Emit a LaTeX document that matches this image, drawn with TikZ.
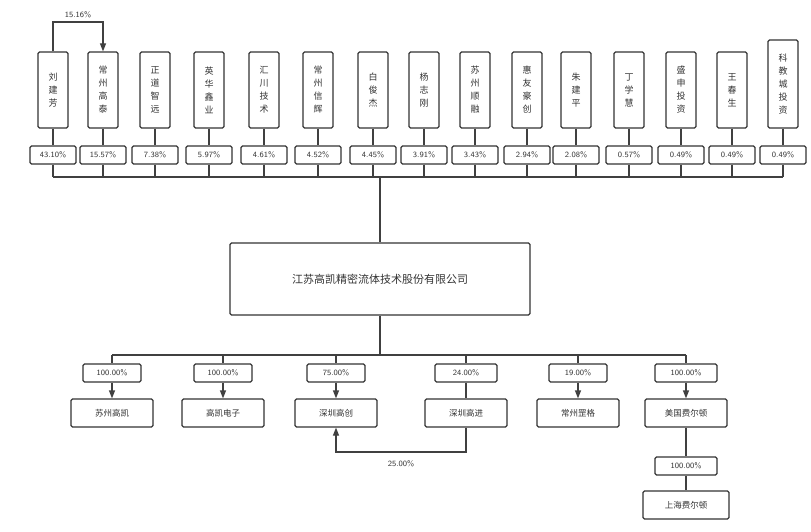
\documentclass[tikz,border=0pt]{standalone}
\usepackage{fontspec}
\newfontfamily\cjk{Noto Sans CJK SC}
\usetikzlibrary{arrows.meta}
\tikzset{
  box/.style={draw=black!80, very thick, rounded corners=1.5pt, fill=white, font=\cjk\fontsize{8.5}{10}\selectfont, text=black!80, inner sep=1pt},
  holder/.style={box, minimum width=30pt, minimum height=76pt, align=center, font=\cjk\fontsize{9}{13}\selectfont},
  pct/.style={box, minimum height=18pt, font=\sffamily\fontsize{8}{9}\selectfont},
  link/.style={draw=black!75, very thick},
  arr/.style={link, -{Triangle[length=8pt,width=6pt]}}
}
\begin{document}
\begin{tikzpicture}[x=1pt,y=-1pt]
\useasboundingbox (0,0) rectangle (811,532);

% holders
\foreach \n/\x/\t/\p in {1/53/刘\\建\\芳/43.10\%, 2/103/常\\州\\高\\泰/15.57\%, 3/155/正\\道\\智\\远/7.38\%,
  4/209/英\\华\\鑫\\业/5.97\%, 5/264/汇\\川\\技\\术/4.61\%, 6/318/常\\州\\信\\辉/4.52\%, 7/373/白\\俊\\杰/4.45\%,
  8/424/杨\\志\\刚/3.91\%, 9/475/苏\\州\\顺\\融/3.43\%, 10/527/惠\\友\\豪\\创/2.94\%, 11/576/朱\\建\\平/2.08\%,
  12/629/丁\\学\\慧/0.57\%, 13/681/盛\\申\\投\\资/0.49\%, 14/732/王\\春\\生/0.49\%}{
  \node[holder] (h\n) at (\x,90) {\t};
  \node[pct, minimum width=46pt] (p\n) at (\x,155) {\p};
  \draw[link] (h\n) -- (p\n);
  \draw[link] (p\n.south) -- (\x,177);
}
\node[holder, minimum height=88pt] (h15) at (783,84) {科\\教\\城\\投\\资};
\node[pct, minimum width=46pt] (p15) at (783,155) {0.49\%};
\draw[link] (h15) -- (p15);
\draw[link] (p15.south) -- (783,177);
\draw[link] (53,177) -- (783,177);

% 15.16%
\coordinate (c1) at (53,22);
\coordinate (c2) at (103,22);
\draw[arr] (h1.north) -- (c1) -- (c2) -- (h2.north);
\node[font=\sffamily\fontsize{8}{9}\selectfont, text=black!80] at (78,15) {15.16\%};

% company
\node[box, minimum width=300pt, minimum height=72pt, font=\cjk\fontsize{11}{13}\selectfont] (co) at (380,279) {江苏高凯精密流体技术股份有限公司};
\draw[link] (380,177) -- (co.north);
\draw[link] (co.south) -- (380,355);
\draw[link] (112,355) -- (686,355);

% subsidiaries
\foreach \n/\x/\t/\p/\w/\pw in {1/112/苏州高凯/100.00\%/arr/58, 2/223/高凯电子/100.00\%/arr/58,
  3/336/深圳高创/75.00\%/arr/58, 4/466/深圳高进/24.00\%/link/62, 5/578/常州罡格/19.00\%/arr/58,
  6/686/美国费尔顿/100.00\%/arr/62}{
  \node[pct, minimum width=\pw pt] (q\n) at (\x,373) {\p};
  \node[box, minimum width=82pt, minimum height=28pt] (s\n) at (\x,413) {\t};
  \draw[link] (\x,355) -- (q\n.north);
  \draw[\w] (q\n) -- (s\n);
}

% 25.00%
\coordinate (d1) at (466,452);
\coordinate (d2) at (336,452);
\draw[arr] (s4.south) -- (d1) -- (d2) -- (s3.south);
\node[font=\sffamily\fontsize{8}{9}\selectfont, text=black!80] at (401,464) {25.00\%};

% Shanghai
\node[pct, minimum width=62pt] (q7) at (686,466) {100.00\%};
\node[box, minimum width=86pt, minimum height=28pt] (s7) at (686,505) {上海费尔顿};
\draw[link] (s6) -- (q7);
\draw[link] (q7) -- (s7);
\end{tikzpicture}
\end{document}
